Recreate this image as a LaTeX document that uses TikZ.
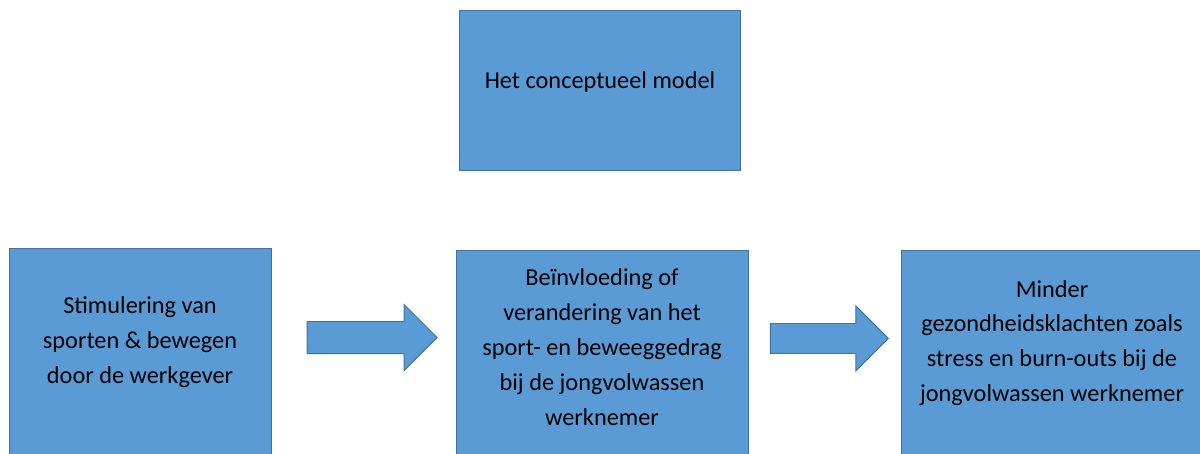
\documentclass[tikz,border=0pt]{standalone}
\usepackage{fontspec}
\setmainfont{Carlito}
\usetikzlibrary{positioning, shapes.arrows}
\definecolor{boxblue}{HTML}{5B9BD5}
\definecolor{boxedge}{HTML}{41719C}

\begin{document}
\begin{tikzpicture}[
    every node/.style={font=\fontsize{17.3}{24.8}\selectfont},
    block/.style={
        rectangle,
        draw=boxedge,
        fill=boxblue,
        line width=0.7pt,
        anchor=north
    },
    boxtext/.style={align=center, inner sep=0pt},
    blockarrow/.style={
        single arrow,
        draw=boxedge,
        fill=boxblue,
        line width=0.7pt,
        single arrow tip angle=90
    }
]
\useasboundingbox (0,0) rectangle (30,11.35);

\node[block, minimum width=7.025cm, minimum height=4cm] (model) at (15.01,11.1) {};
\node[boxtext] (modeltxt) at (15.0,9.3) {Het conceptueel model};

\node[block, minimum width=6.55cm, minimum height=6cm] (stim) at (3.5,5.15) {};
\node[boxtext] (stimtxt) at (3.5,2.8)
{Stimulering van\\sporten \& bewegen\\door de werkgever};

\node[block, minimum width=7.3cm, minimum height=6cm] (gedrag) at (15.05,5.1) {};
\node[boxtext] (gedragtxt) at (15.05,2.675)
{Beïnvloeding of\\verandering van het\\sport- en beweeggedrag\\bij de jongvolwassen\\werknemer};

\node[block, minimum width=7.75cm, minimum height=6cm] (klacht) at (26.4,5.1) {};
\node[boxtext] (klachttxt) at (26.3,2.775)
{Minder\\gezondheidsklachten zoals\\stress en burn-outs bij de\\jongvolwassen werknemer};

\node[blockarrow, inner sep=0.39cm, single arrow head extend=0.42cm,
      minimum height=3.25cm] (pijl1) at (9.1,2.91) {};
\node[blockarrow, inner sep=0.36cm, single arrow head extend=0.44cm,
      minimum height=2.95cm] (pijl2) at (20.545,2.89) {};

\end{tikzpicture}
\end{document}
